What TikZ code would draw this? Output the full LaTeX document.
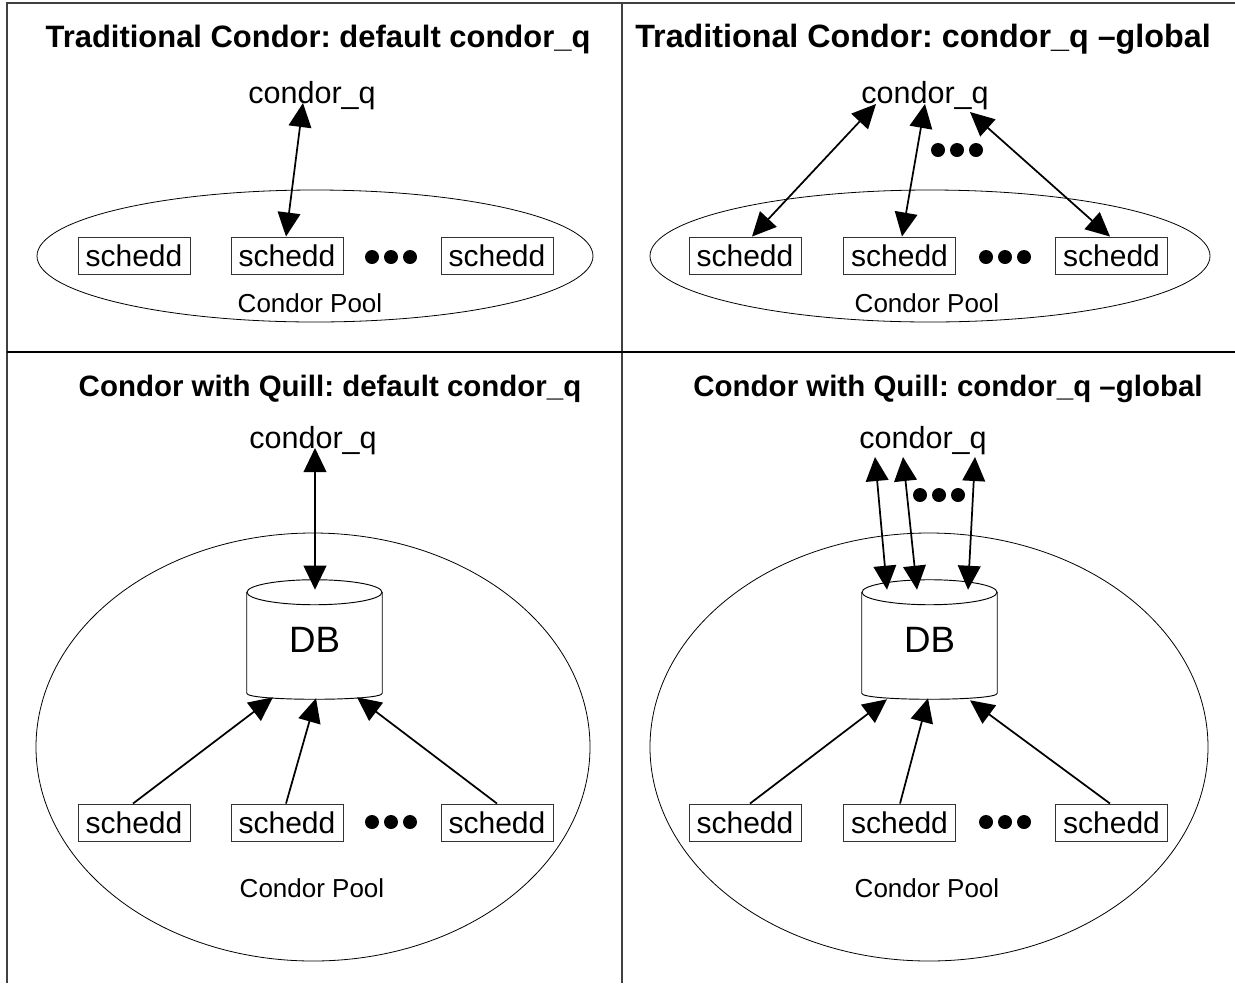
\documentclass[tikz,border=0pt]{standalone}
\usepackage{fontspec}
\setmainfont{Liberation Sans}
\usetikzlibrary{arrows.meta,calc}
\frenchspacing
\begin{document}
\begin{tikzpicture}[x=0.75pt,y=-0.75pt,
  ttl/.style={font=\fontsize{23.2}{27}\selectfont\bfseries, anchor=base, inner sep=0},
  cq/.style={font=\fontsize{22.9}{27}\selectfont, anchor=base, inner sep=0},
  sched/.style={draw=black!80, line width=0.7pt, font=\fontsize{22.5}{27}\selectfont, minimum width=84pt, minimum height=27.75pt, inner sep=0},
  pooltxt/.style={font=\fontsize{19.5}{23}\selectfont, inner sep=0},
  dbtxt/.style={font=\fontsize{27.5}{32}\selectfont, minimum width=101.25pt, minimum height=89.25pt, inner sep=0},
  poolline/.style={line width=0.6pt},
  dbline/.style={line width=0.7pt},
  link/.style={line width=1.3pt, -{Triangle[length=18pt,width=17pt]}},
  dlink/.style={line width=1.3pt, {Triangle[length=18pt,width=17pt]}-{Triangle[length=18pt,width=17pt]}},
  frame/.style={line width=1.3pt, draw=black!75},
  dotfill/.style={fill=black}
]
\useasboundingbox (0,0) rectangle (1235,983);

% frames
\draw[frame] (7,983) -- (7,3) -- (1235,3);
\draw[frame] (622,3) -- (622,983);
\draw[frame,draw=black] (7,352) -- (1235,352);

% ---------- top left ----------
\node[ttl] (t1) at (318,47) {Traditional Condor: default condor\_q};
\draw[poolline] (315,256) ellipse [x radius=278, y radius=66];
\node[cq] (q1) at (312,103) {condor\_q};
\node[sched] (s11) at (134,255.5) {schedd};
\node[sched] (s12) at (287,255.5) {schedd};
\node[sched] (s13) at (497,255.5) {schedd};
\foreach \dx in {-19,0,19} \fill[dotfill] (391+\dx,257) circle [radius=7];
\node[pooltxt] (p1) at (310,303) {Condor Pool};
\draw[dlink] ($(q1.base)+(-9,0)$) -- ($(s12.north)+(-1,0)$);

% ---------- top right ----------
\node[ttl,font=\fontsize{24.2}{28}\selectfont\bfseries] (t2) at (923,47) {Traditional Condor: condor\_q –global};
\draw[poolline] (930,256) ellipse [x radius=280, y radius=66];
\node[cq] (q2) at (925,103) {condor\_q};
\node[sched] (s21) at (745,255.5) {schedd};
\node[sched] (s22) at (899.5,255.5) {schedd};
\node[sched] (s23) at (1111.5,255.5) {schedd};
\foreach \dx in {-19,0,19} \fill[dotfill] (1005+\dx,257) circle [radius=7];
\foreach \dx in {-19,0,19} \fill[dotfill] (957+\dx,150) circle [radius=7];
\node[pooltxt] (p2) at (927,303) {Condor Pool};
\draw[dlink] ($(q2.base)+(-49,1)$) -- ($(s21.north)+(7,0)$);
\draw[dlink] ($(q2.base)+(0,1)$) -- ($(s22.north)+(2.5,0)$);
\draw[dlink] ($(q2.base)+(45,9)$) -- ($(s23.north)+(-1.5,0)$);

% ---------- bottom left ----------
\node[ttl,font=\fontsize{22.1}{26}\selectfont\bfseries] (t3) at (330,396) {Condor with Quill: default condor\_q};
\draw[poolline] (313,747) ellipse [x radius=277, y radius=214];
\node[cq] (q3) at (313,448) {condor\_q};
\node[dbtxt] (db1) at (314.5,639.5) {DB};
\draw[dbline] ($(db1.north)+(0,12.5)$) ellipse [x radius=67.5, y radius=12.5];
\draw[dbline] ($(db1.north west)+(0,12.5)$) -- ($(db1.south west)+(0,-6)$)
  .. controls +(0,8) and +(0,8) .. ($(db1.south east)+(0,-6)$) -- ($(db1.north east)+(0,12.5)$);
\node[sched] (s31) at (134,822.5) {schedd};
\node[sched] (s32) at (287,822.5) {schedd};
\node[sched] (s33) at (497,822.5) {schedd};
\foreach \dx in {-19,0,19} \fill[dotfill] (391+\dx,822) circle [radius=7];
\node[pooltxt] (p3) at (312,888) {Condor Pool};
\draw[dlink] ($(q3.base)+(2,0)$) -- ($(db1.north)+(0.5,10)$);
\draw[link] ($(s31.north)+(-1,0)$) -- ($(db1.south)+(-41.5,-2)$);
\draw[link] ($(s32.north)+(-1,0)$) -- ($(db1.south)+(1.5,-1)$);
\draw[link] (s33.north) -- ($(db1.south)+(42.5,-2)$);

% ---------- bottom right ----------
\node[ttl,font=\fontsize{22.1}{26}\selectfont\bfseries] (t4) at (948,396) {Condor with Quill: condor\_q –global};
\draw[poolline] (929,747) ellipse [x radius=279, y radius=214];
\node[cq] (q4) at (923,448) {condor\_q};
\node[dbtxt] (db2) at (929.5,639.5) {DB};
\draw[dbline] ($(db2.north)+(0,12.5)$) ellipse [x radius=67.5, y radius=12.5];
\draw[dbline] ($(db2.north west)+(0,12.5)$) -- ($(db2.south west)+(0,-6)$)
  .. controls +(0,8) and +(0,8) .. ($(db2.south east)+(0,-6)$) -- ($(db2.north east)+(0,12.5)$);
\node[sched] (s41) at (745,822.5) {schedd};
\node[sched] (s42) at (899.5,822.5) {schedd};
\node[sched] (s43) at (1111.5,822.5) {schedd};
\foreach \dx in {-19,0,19} \fill[dotfill] (1005+\dx,822) circle [radius=7];
\foreach \dx in {-19,0,19} \fill[dotfill] (939+\dx,495) circle [radius=7];
\node[pooltxt] (p4) at (927,888) {Condor Pool};
\draw[dlink] ($(q4.base)+(-48,9)$) -- ($(db2.north)+(-42.5,10)$);
\draw[dlink] ($(q4.base)+(-20,9)$) -- ($(db2.north)+(-12.5,10)$);
\draw[dlink] ($(q4.base)+(52,9)$) -- ($(db2.north)+(38.5,10)$);
\draw[link] ($(s41.north)+(5,0)$) -- ($(db2.south)+(-42.5,0)$);
\draw[link] ($(s42.north)+(0.5,0)$) -- ($(db2.south)+(-1.5,-1)$);
\draw[link] ($(s43.north)+(-1.5,0)$) -- ($(db2.south)+(40.5,1)$);
\end{tikzpicture}
\end{document}
